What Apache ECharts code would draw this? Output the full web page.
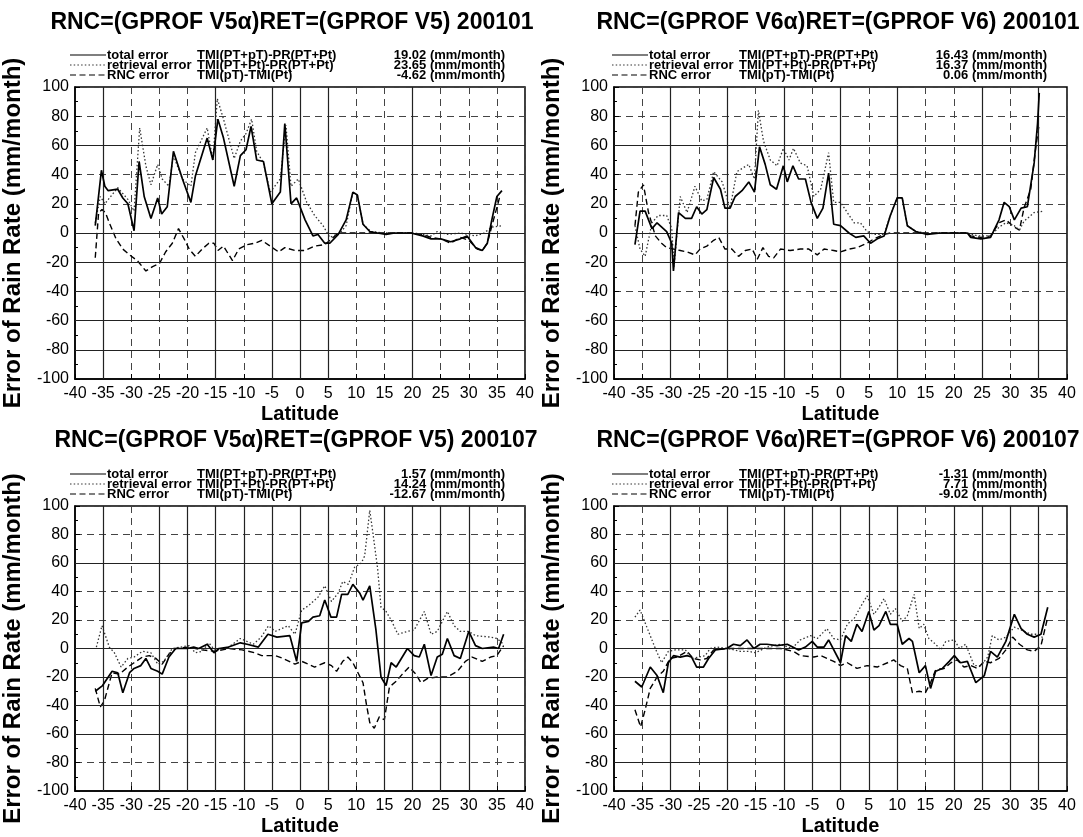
<!DOCTYPE html>
<html><head><meta charset="utf-8">
<script src="https://cdn.jsdelivr.net/npm/echarts@6/dist/echarts.min.js"></script>
<style>html,body{margin:0;padding:0;background:#fff}#c{width:1083px;height:837px}</style>
</head><body><div id="c"></div>
<script>
// ---- axis ticks ----
const latTicks = [-40,-35,-30,-25,-20,-15,-10,-5,0,5,10,15,20,25,30,35,40];
const errTicks = [-100,-80,-60,-40,-20,0,20,40,60,80,100];

// ---- text ----
const panelTitles = [
  'RNC=(GPROF V5\u03b1)RET=(GPROF V5) 200101',
  'RNC=(GPROF V6\u03b1)RET=(GPROF V6) 200101',
  'RNC=(GPROF V5\u03b1)RET=(GPROF V5) 200107',
  'RNC=(GPROF V6\u03b1)RET=(GPROF V6) 200107'
];
const seriesNames = ['total error', 'retrieval error', 'RNC error'];
const seriesFormulas = ['TMI(PT+pT)-PR(PT+Pt)', 'TMI(PT+Pt)-PR(PT+Pt)', 'TMI(pT)-TMI(Pt)'];
const meanValues = [
  ['19.02', '23.65', '-4.62'],
  ['16.43', '16.37', '0.06'],
  ['1.57', '14.24', '-12.67'],
  ['-1.31', '7.71', '-9.02']
];

// ---- data: [latitude, error mm/month] ----
const v5Jan_total = [[-36.4,5],[-35.3,43],[-34.7,32],[-34.1,29],[-32.4,30],[-31.5,24],[-30.6,20],[-29.5,1.5],[-28.6,49],[-27.7,25],[-26.5,10],[-25.3,24],[-24.6,13],[-23.6,18],[-22.5,56],[-20.9,37],[-19.4,21],[-18.6,39],[-16.5,65],[-15.5,50],[-14.6,78],[-13.6,65],[-11.7,32],[-10.6,53],[-9.6,57],[-8.7,73],[-7.7,50],[-6.5,49],[-5.0,20],[-3.5,28],[-2.7,75],[-1.6,20],[-0.6,24],[0.9,9],[2.3,-2],[3.2,-1],[4.4,-7],[5.3,-7],[6.8,-1],[8.2,9],[9.4,28],[10.2,26],[11.2,6],[12.4,1],[13.8,0],[15.3,-1],[16.8,0],[19.7,0],[21.8,-2],[23.3,-4],[25,-4],[26.8,-6],[28.5,-4],[29.7,-2],[31.2,-10],[32.4,-12],[33.3,-7],[34.1,9],[35.0,25],[35.9,29]];
const v5Jan_retrieval = [[-36.4,7],[-35.5,25],[-34.7,20],[-32.4,31],[-30.6,23],[-29.5,15],[-28.5,72],[-27.4,46],[-26.5,33],[-25.3,47],[-24.5,37],[-23.3,32],[-22.5,53],[-20.9,37],[-19.4,32],[-18.6,55],[-16.5,72],[-15.5,50],[-14.7,92],[-13.6,78],[-11.7,51],[-10.6,63],[-9.6,68],[-8.6,78],[-7.7,56],[-6.5,48],[-5.3,28],[-3.5,37],[-2.5,74],[-1.6,32],[-0.3,37],[1.2,21],[2.6,12],[4.1,5],[5.3,-3],[7.1,0],[8.2,5],[9.4,28],[10.2,26],[11.2,6],[12.6,1],[15,0],[20,0],[21.8,-1],[23.3,-2],[24.4,1],[26.2,-1],[28.5,0],[31.2,-2],[32.7,0],[34.1,4],[35.9,5]];
const v5Jan_rnc = [[-36.4,-17],[-35.8,14],[-35.2,16],[-34.6,14],[-33.9,7],[-32.7,-4],[-31.5,-11],[-30.3,-15],[-28.9,-19],[-27.4,-26],[-26.2,-23],[-25,-21],[-23.9,-13],[-22.7,-7],[-21.6,3],[-20.6,-4],[-19.7,-11],[-18.6,-16],[-17.4,-11],[-16.2,-7],[-15.3,-7],[-14.6,-12],[-13.6,-9],[-12,-19],[-10.9,-11],[-9.4,-8],[-8,-7],[-6.8,-5],[-5.3,-9],[-3.8,-13],[-2.7,-10],[-0.9,-12],[0.9,-12],[2.6,-9],[4.4,-8],[5.6,-4],[6.8,0],[10,0],[15,0],[20,0],[21.8,-1],[23.3,-3],[25,-4],[26.8,-7],[28.5,-3],[30,-5],[31.5,-11],[32.4,-12],[33.3,-7],[34.4,9],[35.6,26]];

const v6Jan_total = [[-36.3,-8],[-35.4,15],[-34.5,15],[-33.3,3],[-32.4,7],[-30.7,1],[-29.8,-7],[-29.5,-26],[-28.6,14],[-27.4,10],[-26.3,10],[-25.4,18],[-24.5,13],[-23.6,16],[-22.4,38],[-21.2,30],[-20.4,17],[-19.5,17],[-18.6,25],[-17.4,29],[-16.2,35],[-15.2,28],[-14.3,59],[-13.3,47],[-12.4,33],[-11.3,30],[-10.1,46],[-9.4,35],[-8.4,46],[-7.4,37],[-6.2,37],[-5.2,21],[-4.1,10],[-3.1,17],[-2.1,41],[-1.2,6],[0,5],[1.5,0],[2.7,-3],[4.1,-2],[5.3,-7],[6.5,-4],[7.7,-2],[8.8,12],[10,24],[10.9,24],[11.8,5],[13.3,1],[15.3,-1],[17.7,0],[22.4,0],[23,-3],[24.8,-4],[26.5,-3],[28,9],[28.9,21],[29.8,18],[30.7,9],[31.9,17],[33,18],[34.2,48],[34.8,75],[35.1,96]];
const v6Jan_retrieval = [[-36.3,5],[-35.4,-11],[-34.5,-16],[-33.3,7],[-32.2,12],[-30.7,12],[-29.8,3],[-29.4,-23],[-28.3,25],[-27.1,14],[-25.7,32],[-24.5,22],[-23.6,23],[-22.4,42],[-20.9,35],[-19.5,17],[-18.3,42],[-16.2,47],[-15.2,37],[-14.5,84],[-13.6,63],[-12.4,50],[-11.2,46],[-10.1,58],[-9.1,50],[-8.3,58],[-7.1,48],[-5.9,46],[-4.7,25],[-3.5,30],[-2.1,55],[-1.2,21],[0,21],[1.2,14],[2.4,7],[3.5,7],[4.7,1],[5.9,-1],[7.7,-1],[8.8,12],[10,24],[10.9,24],[11.8,5],[13.3,1],[15.3,0],[22.4,0],[24.2,-2],[26.5,-2],[28,4],[29.2,7],[30.7,5],[31.6,2],[32.4,8],[34.2,14],[36,15]];
const v6Jan_rnc = [[-36.3,5],[-35.7,28],[-34.8,33],[-33.9,14],[-32.7,-2],[-31.6,-7],[-30.7,-10],[-29.5,-11],[-28.3,-12],[-27.1,-13],[-25.7,-15],[-24.8,-11],[-23.6,-9],[-22.4,-5],[-21.5,-3],[-20.4,-11],[-19.2,-11],[-18,-16],[-16.8,-12],[-15.6,-11],[-14.7,-18],[-13.7,-10],[-12.7,-16],[-11.8,-17],[-10.6,-11],[-8.9,-12],[-7.1,-11],[-5.6,-11],[-4.1,-15],[-2.9,-11],[-1.2,-12],[0,-13],[1.5,-11],[2.9,-10],[4.7,-7],[5.9,-4],[7.7,-1],[8.8,0],[15,0],[22.4,0],[23,-2],[24.8,-3],[26.5,-2],[28,7],[29.2,9],[30.7,4],[31.6,2],[32.4,17],[33.6,30],[34.5,59],[35.1,75]];

const v5Jul_total = [[-36.4,-30],[-35.1,-26],[-33.4,-16],[-32.4,-17],[-31.5,-31],[-30.3,-17],[-29.5,-14],[-28.3,-12],[-27.4,-7],[-26.5,-14],[-25.3,-16],[-24.5,-18],[-23.3,-6],[-22.1,0],[-20,0],[-18.9,1],[-18,0],[-16.5,3],[-15.3,-3],[-14.4,0],[-12.7,1],[-10.6,4],[-9.4,3],[-7.4,1],[-5.7,10],[-4.1,8],[-1.8,9],[-0.6,-9],[0.3,18],[1.5,19],[2.3,22],[3.5,23],[4.4,34],[5.5,22],[6.5,22],[7.4,38],[8.5,38],[9.4,45],[10.6,39],[11.2,34],[12.4,44],[13.5,13],[14.4,-20],[15.3,-26],[16.2,-10],[17.1,-13],[19.1,0],[20.3,-5],[21.2,-6],[22.1,3],[23.3,-19],[24.4,-6],[25.3,-4],[26.2,7],[27.4,-5],[28.5,-7],[30,12],[31.2,2],[32.4,0],[34.4,1],[35.3,0],[36.2,10]];
const v5Jul_retrieval = [[-36.2,1],[-35.2,16],[-33.9,1],[-33,-3],[-31.8,-13],[-30.6,-7],[-29.5,-6],[-28,-2],[-26.5,-3],[-25.3,-11],[-24.2,-9],[-22.7,0],[-19.7,2],[-18.6,-3],[-17.4,-2],[-16.2,4],[-15,-2],[-12.7,1],[-10.6,7],[-8.3,3],[-6.9,8],[-5.6,16],[-4.4,12],[-2.1,16],[-0.9,10],[0.3,27],[1.5,30],[3.2,36],[4.4,44],[5.6,33],[6.8,39],[7.6,47],[8.6,45],[9.7,57],[10.9,60],[11.5,65],[12.4,97],[13,80],[13.8,56],[14.4,29],[15.3,26],[16.2,20],[17.4,10],[19.1,12],[20.3,13],[22.1,26],[23.3,10],[24.4,12],[26.2,26],[27.4,16],[28.5,12],[30,12],[31.2,9],[33.9,8],[35,7],[36.2,3]];
const v5Jul_rnc = [[-36.4,-28],[-35.5,-41],[-34.8,-37],[-33.4,-17],[-32.1,-18],[-30.6,-13],[-29.5,-10],[-28,-6],[-26.8,-5],[-25.6,-7],[-24.5,-11],[-23.3,-4],[-22.1,0],[-19.7,1],[-17.4,-1],[-15,-2],[-12.7,0],[-10.3,-1],[-8,-3],[-6.8,-5],[-4.4,-5],[-3,-7],[-0.9,-11],[0.3,-9],[1.5,-11],[2.6,-13],[4.4,-10],[5.6,-12],[6.5,-16],[7.6,-9],[8.5,-6],[9.4,-10],[11.2,-24],[11.8,-39],[12.4,-52],[13.2,-56],[14.1,-48],[15,-50],[15.9,-27],[17.1,-23],[18.2,-18],[19.4,-13],[20.6,-18],[21.5,-24],[22.7,-21],[24.4,-20],[26.2,-20],[28,-16],[29.4,-9],[30.6,-6],[32.4,-9],[33.9,-6],[35,-5],[36.2,2]];

const v6Jul_total = [[-36.3,-23],[-35.1,-27],[-33.6,-13],[-32.4,-19],[-31.3,-31],[-30.4,-10],[-29.5,-5],[-28.3,-6],[-27.1,-5],[-26.3,-6],[-25.4,-13],[-24.2,-13],[-23.3,-7],[-22.1,-1],[-20.1,0],[-18.9,3],[-17.7,2],[-16.5,6],[-15.3,0],[-14.2,3],[-13,3],[-11.2,2],[-9.4,3],[-7.4,-1],[-6.2,1],[-5,5],[-4.1,1],[-2.9,1],[-2.1,6],[0,-10],[0.9,9],[1.9,5],[2.9,17],[3.8,12],[5,26],[5.9,13],[6.8,16],[8,26],[8.8,17],[10,17],[10.9,3],[12.1,7],[12.7,5],[13.9,-17],[15,-12],[15.9,-28],[16.8,-16],[18,-14],[19.2,-9],[20.1,-5],[21.2,-10],[22.4,-9],[23.9,-24],[25.4,-19],[26.5,-2],[27.7,-6],[29.2,5],[30.7,24],[31.9,14],[33,10],[34.2,8],[35.4,10],[36.6,29]];
const v6Jul_retrieval = [[-36.3,22],[-35.4,27],[-34.2,15],[-32.7,0],[-31.6,-10],[-30.4,-2],[-29.2,-1],[-27.4,-1],[-26.3,-7],[-25.1,-6],[-23.9,-5],[-23,0],[-21.8,1],[-19.8,0],[-17.7,-2],[-16.2,-2],[-15,-3],[-13,1],[-10.6,3],[-8.6,0],[-7.1,6],[-5.3,9],[-4.1,7],[-2.4,14],[-1.2,7],[0,6],[1.2,17],[2.4,21],[3.5,29],[4.7,37],[5.9,24],[6.8,29],[7.7,35],[8.8,24],[9.7,28],[10.9,19],[11.8,23],[13,38],[13.9,14],[14.7,17],[15.6,7],[16.8,3],[17.7,-1],[18.6,5],[20.1,6],[21,0],[22.1,3],[23.6,-12],[24.8,-12],[26,-6],[26.8,9],[28,6],[29.2,8],[30.7,15],[31.9,13],[33.6,10],[34.8,10],[36,7]];
const v6Jul_rnc = [[-36.3,-43],[-35.3,-55],[-34.5,-43],[-33.6,-28],[-32.4,-20],[-31.3,-16],[-30.1,-7],[-28.9,-6],[-27.1,-2],[-26,-7],[-24.8,-8],[-23.6,-7],[-22.4,-1],[-20.1,0],[-17.7,0],[-15.3,0],[-13,0],[-10.6,0],[-8.3,-2],[-7.1,-5],[-4.7,-6],[-3.5,-5],[-1.2,-9],[0,-12],[1.2,-10],[2.9,-14],[4.7,-12],[6.5,-13],[8.3,-10],[9.4,-8],[10.6,-12],[11.8,-14],[12.7,-31],[13.9,-30],[15,-31],[15.9,-24],[16.8,-15],[18.3,-14],[19.5,-10],[20.6,-8],[21.8,-13],[23,-12],[24.2,-14],[25.4,-9],[26.5,-10],[28,-7],[29.2,-1],[30.4,8],[31.6,3],[33,-1],[34.2,-2],[35.4,2],[36.6,22]];

const panelData = [
  [v5Jan_total, v5Jan_retrieval, v5Jan_rnc],
  [v6Jan_total, v6Jan_retrieval, v6Jan_rnc],
  [v5Jul_total, v5Jul_retrieval, v5Jul_rnc],
  [v6Jul_total, v6Jul_retrieval, v6Jul_rnc]
];

// ---- layout / style (not data) ----
const FONT = '"Liberation Sans", Arial, Helvetica, sans-serif';
const grids = [
  {left: 72,  top: 87,  width: 453, height: 292},
  {left: 614, top: 87,  width: 453, height: 292},
  {left: 72,  top: 506, width: 453, height: 288},
  {left: 614, top: 506, width: 453, height: 288}
];
const titleCenters = [[292, 23], [838, 23], [296, 441], [838, 441]];
const legendTop = [55, 55, 474, 474];
// grid lines that look solid in the scan
const solidX = [[-35,-15,-5,0,5,20],[-30,-20,-10,0,10,25,35],[-35,-25,-20,-15,-10,-5,0,5,15,20,25,30],[-30,-20,-10,-5,0,5,10,20,25,30,35]];
const solidY = [[60,0,-20,-40,-60,-80],[60,0,-20,-60,-80],[60,0,-20,-40,-60],[60,0,-20,-40,-60,-80]];
const lineStyles = [
  {color: '#000', width: 1.7, type: 'solid'},
  {color: '#333', width: 1.3, type: [1.5, 2.2]},
  {color: '#000', width: 1.4, type: [6, 3.5]}
];

const option = {
  animation: false,
  backgroundColor: '#fff',
  textStyle: {fontFamily: FONT},
  grid: grids.map(g => Object.assign({show: true, borderColor: '#000', borderWidth: 1.5, backgroundColor: 'transparent'}, g)),
  xAxis: grids.map((g, i) => ({
    type: 'value', gridIndex: i,
    min: latTicks[0], max: latTicks[latTicks.length - 1], interval: 5,
    name: 'Latitude', nameLocation: 'middle', nameGap: 25,
    nameTextStyle: {fontFamily: FONT, fontSize: 20, fontWeight: 'bold', color: '#000'},
    axisLine: {show: true, onZero: false, lineStyle: {color: '#000', width: 1.5}},
    axisTick: {show: true, inside: true, length: 5, lineStyle: {color: '#000'}},
    axisLabel: {fontFamily: FONT, fontSize: 16, color: '#000', margin: 7, showMinLabel: true, showMaxLabel: true},
    splitLine: {show: true, lineStyle: {color: '#444', width: 1, type: [7, 5]}}
  })),
  yAxis: grids.map((g, i) => ({
    type: 'value', gridIndex: i,
    min: errTicks[0], max: errTicks[errTicks.length - 1], interval: 20,
    name: 'Error of Rain Rate (mm/month)', nameLocation: 'middle', nameGap: 50,
    nameTextStyle: {fontFamily: FONT, fontSize: 24, fontWeight: 'bold', color: '#000'},
    axisLine: {show: true, onZero: false, lineStyle: {color: '#000', width: 1.5}},
    axisTick: {show: true, inside: true, length: 5, lineStyle: {color: '#000'}},
    minorTick: {show: true, splitNumber: 2, length: 3, lineStyle: {color: '#000'}},
    axisLabel: {fontFamily: FONT, fontSize: 16, color: '#000', margin: 6},
    splitLine: {show: true, lineStyle: {color: '#444', width: 1, type: [7, 5]}}
  })),
  series: [],
  graphic: []
};

panelData.forEach((arrs, i) => {
  option.series.push({
    type: 'line', xAxisIndex: i, yAxisIndex: i, data: [], silent: true, z: 1,
    markLine: {
      silent: true, symbol: ['none', 'none'], label: {show: false}, animation: false,
      lineStyle: {type: 'solid', color: '#222', width: 1.2},
      data: solidX[i].map(v => ({xAxis: v})).concat(solidY[i].map(v => ({yAxis: v})))
    }
  });
  arrs.forEach((d, k) => {
    option.series.push({
      type: 'line', name: seriesNames[k], xAxisIndex: i, yAxisIndex: i,
      data: d, symbol: 'none', showSymbol: false, z: 3 + (2 - k),
      lineStyle: lineStyles[k]
    });
  });
  // title
  option.graphic.push({
    type: 'text', x: titleCenters[i][0], y: titleCenters[i][1], z: 10,
    style: {text: panelTitles[i], fill: '#000',
      font: 'bold 23px ' + FONT, align: 'center', verticalAlign: 'middle'}
  });
  // legend
  const L = grids[i].left;
  for (let k = 0; k < 3; k++) {
    const y = legendTop[i] + k * 10;
    const ls = lineStyles[k];
    option.graphic.push({
      type: 'line', z: 10,
      shape: {x1: L - 2, y1: y, x2: L + 34, y2: y},
      style: {stroke: ls.color, lineWidth: 1.2, lineDash: ls.type === 'solid' ? null : ls.type}
    });
    option.graphic.push({type: 'text', z: 10, x: L + 35, y: y,
      style: {text: seriesNames[k], fill: '#000', font: 'bold 13px ' + FONT, align: 'left', verticalAlign: 'middle'}});
    option.graphic.push({type: 'text', z: 10, x: L + 125, y: y,
      style: {text: seriesFormulas[k], fill: '#000', font: 'bold 13px ' + FONT, align: 'left', verticalAlign: 'middle'}});
    option.graphic.push({type: 'text', z: 10, x: L + 433, y: y,
      style: {text: meanValues[i][k] + ' (mm/month)', fill: '#000', font: 'bold 13px ' + FONT, align: 'right', verticalAlign: 'middle'}});
  }
});

const chart = echarts.init(document.getElementById('c'), null, {renderer: 'canvas'});
chart.setOption(option);
</script>
</body></html>
